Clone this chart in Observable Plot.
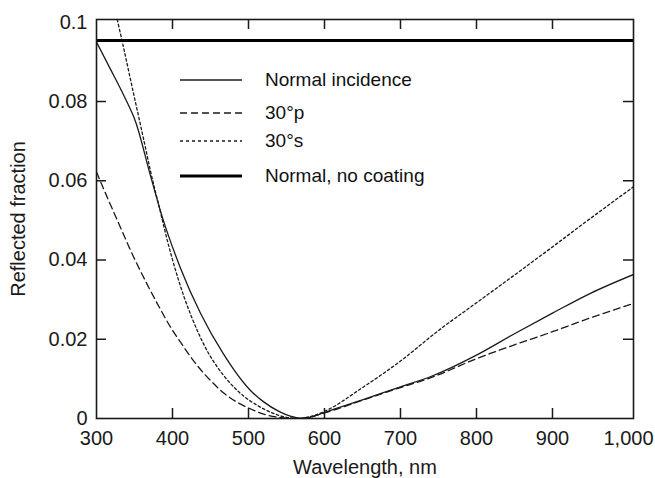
<!DOCTYPE html>
<html><head><meta charset="utf-8">
<script src="https://cdn.jsdelivr.net/npm/d3@7"></script>
<script src="https://cdn.jsdelivr.net/npm/@observablehq/plot@0.6"></script>
<style>
body{margin:0;background:#fff;font-family:"Liberation Sans",Arial,sans-serif;}
#wrap{position:relative;width:655px;height:478px;}
#legend{position:absolute;left:0;top:0;width:655px;height:478px;pointer-events:none;}
.row{position:absolute;left:180px;height:30px;display:flex;align-items:center;font-size:19px;color:#111;white-space:nowrap;}
.row svg{margin-right:23px;}
</style>
</head><body><div id="wrap"><div id="chart"></div><div id="legend"></div></div>
<script>
// Normal incidence (solid)
const normalWl = [300,318,336,352,371,386,410,437,467,502,520,540,555,572,585,600,650,700,740,800,850,900,950,1006];
const normalR  = [0.0950,0.0883,0.0815,0.0746,0.0613,0.0512,0.0382,0.0265,0.0163,0.0072,0.0042,0.0018,0.0006,0.0000,0.0005,0.0015,0.0047,0.0080,0.0106,0.0160,0.0214,0.0266,0.0316,0.0363];
// 30° p (dashed)
const pWl = [300,316,330,349,365,380,397,415,432,450,467,485,503,520,540,555,575,600,650,700,740,800,850,900,950,1006];
const pR  = [0.0622,0.0550,0.0489,0.0407,0.0345,0.0290,0.0232,0.0180,0.0135,0.0096,0.0065,0.0041,0.0024,0.0011,0.0003,0.0000,0.0002,0.0014,0.0046,0.0078,0.0103,0.0151,0.0186,0.0219,0.0254,0.0290];
// 30° s (dotted)
const sWl = [320,334,349,362,371,383,395,405,415,425,435,447,459,475,494,510,530,550,565,580,600,650,700,750,800,850,900,950,1006];
const sR  = [0.1068,0.0950,0.0818,0.0705,0.0625,0.0530,0.0436,0.0368,0.0308,0.0257,0.0212,0.0166,0.0130,0.0091,0.0056,0.0035,0.0015,0.0003,0.0000,0.0004,0.0018,0.0078,0.0145,0.0222,0.0292,0.0362,0.0433,0.0505,0.0584];
// Normal, no coating (thick)
const bareWl = [300,1006];
const bareR  = [0.0954,0.0954];

const xTickValues = [300,400,500,600,700,800,900,1000];
const xTickLabels = ["300","400","500","600","700","800","900","1,000"];
const yTickValues = [0,0.02,0.04,0.06,0.08,0.1];
const yTickLabels = ["0","0.02","0.04","0.06","0.08","0.1"];

const seriesNames = ["Normal incidence","30°p","30°s","Normal, no coating"];

const toRows = (wl, r, name) => wl.map((w,i)=>({w, r:r[i], name}));
const normalRows = toRows(normalWl, normalR, seriesNames[0]);
const pRows = toRows(pWl, pR, seriesNames[1]);
const sRows = toRows(sWl, sR, seriesNames[2]);
const bareRows = toRows(bareWl, bareR, seriesNames[3]);

const W = 655, H = 478;
const mL = 96, mR = 22, mT = 19, mB = 60;
const plotW = W - mL - mR, plotH = H - mT - mB;
const tickLen = 10;
const innerX = xTickValues.slice(1,-1);
const innerY = yTickValues.slice(1,-1);
const ink = "#1a1a1a";

const chart = Plot.plot({
  width: W, height: H,
  marginLeft: mL, marginRight: mR, marginTop: mT, marginBottom: mB,
  style: {fontFamily: '"Liberation Sans", Arial, sans-serif', fontSize: "20px", color: ink, background: "#fff"},
  x: {domain: [300, 1006.6]},
  y: {domain: [0, 0.1007]},
  marks: [
    Plot.line(normalRows, {x:"w", y:"r", stroke: ink, strokeWidth: 1.3, curve: "monotone-x", clip: true}),
    Plot.line(pRows, {x:"w", y:"r", stroke: ink, strokeWidth: 1.3, strokeDasharray: "7,4", curve: "monotone-x", clip: true}),
    Plot.line(sRows, {x:"w", y:"r", stroke: ink, strokeWidth: 1.3, strokeDasharray: "2.5,2.5", curve: "monotone-x", clip: true}),
    Plot.line(bareRows, {x:"w", y:"r", stroke: "#000", strokeWidth: 3, clip: true}),
    Plot.tickX(innerX, {x: d=>d, stroke: ink, strokeWidth: 1.5, insetTop: plotH - tickLen}),
    Plot.tickX(innerX, {x: d=>d, stroke: ink, strokeWidth: 1.5, insetBottom: plotH - tickLen}),
    Plot.tickY(innerY, {y: d=>d, stroke: ink, strokeWidth: 1.5, insetRight: plotW - tickLen}),
    Plot.tickY(innerY, {y: d=>d, stroke: ink, strokeWidth: 1.5, insetLeft: plotW - tickLen}),
    Plot.frame({stroke: ink, strokeWidth: 1.6}),
    Plot.axisX(xTickValues, {tickSize: 0, tickPadding: 12, fontSize: 20, tickFormat: d => xTickLabels[xTickValues.indexOf(d)],
      label: "Wavelength, nm", labelAnchor: "center", labelOffset: 55, labelArrow: "none"}),
    Plot.axisY(yTickValues, {tickSize: 0, tickPadding: 9, fontSize: 20, tickFormat: d => yTickLabels[yTickValues.indexOf(d)],
      label: "Reflected fraction", labelAnchor: "center", labelOffset: 86, labelArrow: "none"})
  ]
});
document.getElementById("chart").appendChild(chart);

// Legend
const legendStyles = [
  {dash: null, width: 1.3},
  {dash: "7,4", width: 1.3},
  {dash: "3,3", width: 1.3},
  {dash: null, width: 3}
];
const legendRowsY = [80, 113, 141, 176];
const leg = document.getElementById("legend");
seriesNames.forEach((name, i) => {
  const row = document.createElement("div");
  row.className = "row";
  row.style.top = (legendRowsY[i] - 15) + "px";
  const st = legendStyles[i];
  row.innerHTML = `<svg width="62" height="30"><line x1="0" x2="62" y1="15" y2="15" stroke="${i===3?'#000':ink}" stroke-width="${st.width}" ${st.dash?`stroke-dasharray="${st.dash}"`:""}/></svg><span>${name}</span>`;
  leg.appendChild(row);
});
</script>
</body></html>
